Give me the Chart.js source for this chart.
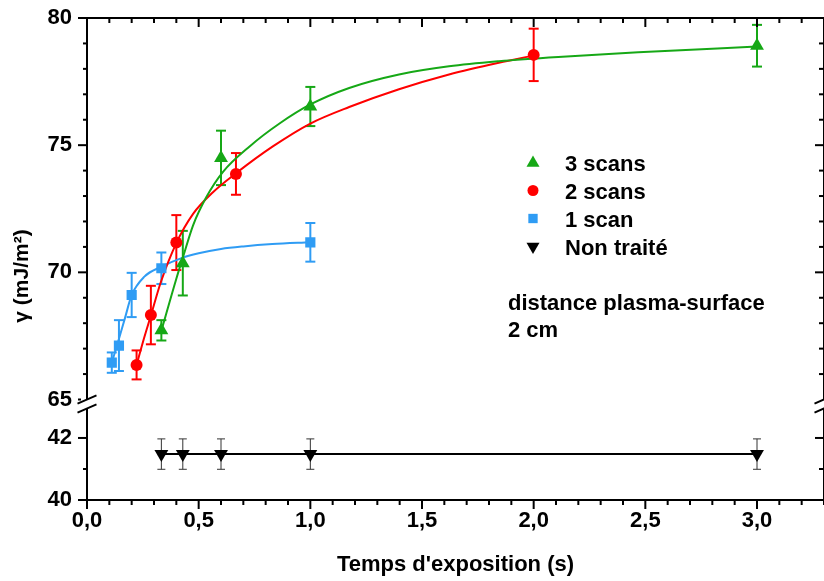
<!DOCTYPE html>
<html>
<head>
<meta charset="utf-8">
<script src="https://cdn.jsdelivr.net/npm/chart.js@4.4.1/dist/chart.umd.min.js"></script>
<style>
  html, body { margin: 0; padding: 0; background: #fff; overflow: hidden; }
  #wrap { position: relative; width: 832px; height: 581px; }
</style>
</head>
<body>
<div id="wrap"><canvas id="chart"></canvas></div>
<script>
// measured points
const scan3X = [0.333, 0.429, 0.6, 1.0, 3.0];
const scan3Y = [67.72, 70.36, 74.5, 76.52, 78.91];
const scan3Err = [0.4, 1.27, 1.07, 0.77, 0.82];

const scan2X = [0.222, 0.286, 0.4, 0.667, 2.0];
const scan2Y = [66.36, 68.32, 71.17, 73.87, 78.55];
const scan2Err = [0.57, 1.15, 1.08, 0.82, 1.03];

const scan1X = [0.111, 0.143, 0.2, 0.333, 1.0];
const scan1Y = [66.45, 67.12, 69.11, 70.16, 71.18];
const scan1Err = [0.4, 1.0, 0.87, 0.62, 0.76];

const rawX = [0.333, 0.429, 0.6, 1.0, 3.0];
const rawY = [41.48, 41.48, 41.48, 41.48, 41.48];
const rawErr = [0.49, 0.49, 0.49, 0.49, 0.49];

// fitted curves
const fit3X = [0.333, 0.4, 0.43, 0.475, 0.534, 0.609, 0.728, 0.862, 1.0, 1.174, 1.397, 1.621, 1.844, 2.11, 2.469, 3.0];
const fit3Y = [67.7, 69.75, 70.6, 71.85, 72.95, 73.95, 74.95, 75.85, 76.6, 77.25, 77.78, 78.1, 78.3, 78.47, 78.65, 78.88];

const fit2X = [0.222, 0.255, 0.286, 0.33, 0.4, 0.475, 0.564, 0.668, 0.832, 1.0, 1.174, 1.397, 1.621, 1.844, 2.0];
const fit2Y = [66.36, 67.4, 68.3, 69.6, 71.15, 72.3, 73.15, 73.9, 74.95, 75.85, 76.5, 77.2, 77.78, 78.24, 78.52];

const fit1X = [0.111, 0.137, 0.17, 0.2, 0.257, 0.333, 0.42, 0.5, 0.6, 0.7, 0.83, 1.0];
const fit1Y = [66.45, 67.2, 68.2, 69.1, 69.83, 70.22, 70.55, 70.75, 70.92, 71.02, 71.11, 71.18];

const xTicks = [0, 0.5, 1.0, 1.5, 2.0, 2.5, 3.0];
const yTicks = [65, 70, 75, 80];
const yLowTicks = [40, 42];

const GREEN = '#16a816';
const RED = '#ff0000';
const BLUE = '#2f9cf4';
const BLACK = '#000000';
const FONT = "'Liberation Sans', Arial, sans-serif";

const pts = (xs, ys) => xs.map((x, i) => ({ x: x, y: ys[i] }));

const series = [
  { label: '3 scans', xs: scan3X, ys: scan3Y, err: scan3Err, color: GREEN, style: 'triangle', rot: 0, r: 8, axis: 'y' },
  { label: '2 scans', xs: scan2X, ys: scan2Y, err: scan2Err, color: RED, style: 'circle', rot: 0, r: 6, axis: 'y' },
  { label: '1 scan', xs: scan1X, ys: scan1Y, err: scan1Err, color: BLUE, style: 'rect', rot: 0, r: 7.2, axis: 'y' },
  { label: 'Non traité', xs: rawX, ys: rawY, err: rawErr, color: BLACK, style: 'triangle', rot: 180, r: 8, axis: 'yLow' }
];

const datasets = series.map(s => ({
  label: s.label,
  data: pts(s.xs, s.ys),
  yAxisID: s.axis,
  pointStyle: s.style,
  rotation: s.rot,
  pointRadius: s.r,
  pointBackgroundColor: s.color,
  pointBorderColor: s.color,
  pointBorderWidth: 0,
  borderColor: s.color,
  borderWidth: 2,
  showLine: s.axis === 'yLow',
  order: 0
}));

[[fit3X, fit3Y, GREEN], [fit2X, fit2Y, RED], [fit1X, fit1Y, BLUE]].forEach(f => {
  datasets.push({
    data: pts(f[0], f[1]),
    yAxisID: 'y',
    showLine: true,
    pointRadius: 0,
    borderColor: f[2],
    borderWidth: 2,
    cubicInterpolationMode: 'monotone',
    order: 1
  });
});

function line(ctx, x1, y1, x2, y2) {
  ctx.beginPath();
  ctx.moveTo(x1, y1);
  ctx.lineTo(x2, y2);
  ctx.stroke();
}

function drawMarker(ctx, style, rot, x, y, r, color) {
  ctx.save();
  ctx.fillStyle = color;
  ctx.beginPath();
  if (style === 'circle') {
    ctx.arc(x, y, r, 0, Math.PI * 2);
  } else if (style === 'rect') {
    const h = r * Math.SQRT1_2;
    ctx.rect(x - h, y - h, 2 * h, 2 * h);
  } else {
    let a = rot * Math.PI / 180;
    for (let i = 0; i < 3; i++) {
      const px = x + Math.sin(a) * r, py = y - Math.cos(a) * r;
      if (i === 0) ctx.moveTo(px, py); else ctx.lineTo(px, py);
      a += Math.PI * 2 / 3;
    }
    ctx.closePath();
  }
  ctx.fill();
  ctx.restore();
}

const frame = {
  id: 'frame',
  beforeDatasetsDraw(chart) {
    const ctx = chart.ctx;
    const xs = chart.scales.x;
    series.forEach(s => {
      const ys = chart.scales[s.axis];
      const black = s.color === BLACK;
      ctx.save();
      ctx.strokeStyle = black ? '#333' : s.color;
      ctx.lineWidth = black ? 1 : 2;
      const cap = black ? 4 : 5;
      s.xs.forEach((x, i) => {
        const px = xs.getPixelForValue(x);
        const top = ys.getPixelForValue(s.ys[i] + s.err[i]);
        const bot = ys.getPixelForValue(s.ys[i] - s.err[i]);
        line(ctx, px, top, px, bot);
        line(ctx, px - cap, top, px + cap, top);
        line(ctx, px - cap, bot, px + cap, bot);
      });
      ctx.restore();
    });
  },
  afterDraw(chart) {
    const ctx = chart.ctx;
    const a = chart.chartArea;
    const xs = chart.scales.x, yu = chart.scales.y, yl = chart.scales.yLow;
    const brk1 = yu.getPixelForValue(65);
    const brk2 = brk1 + 9;
    ctx.save();
    ctx.strokeStyle = '#000';
    ctx.lineWidth = 2;
    ctx.lineCap = 'butt';
    // frame
    line(ctx, a.left - 1, a.top, a.right + 1, a.top);
    line(ctx, a.left - 1, a.bottom, a.right + 1, a.bottom);
    [a.left, a.right].forEach(x => {
      line(ctx, x, a.top, x, brk1);
      line(ctx, x, brk2, x, a.bottom);
      line(ctx, x - 9.5, brk1 + 4.2, x + 9.5, brk1 - 4.2);
      line(ctx, x - 9.5, brk2 + 4.2, x + 9.5, brk2 - 4.2);
    });
    // x ticks
    for (let i = 0; i <= 33; i++) {
      const v = i / 10;
      const px = xs.getPixelForValue(v);
      const major = i % 5 === 0;
      line(ctx, px, a.bottom, px, a.bottom + (major ? 9 : 5));
      line(ctx, px, a.top, px, a.top + (major ? 9 : 5));
    }
    // y ticks, upper part
    for (let v = 65; v <= 80; v++) {
      const py = yu.getPixelForValue(v);
      const major = v % 5 === 0;
      if (v !== 65) {
        line(ctx, a.left - (major ? 9 : 4), py, a.left, py);
        line(ctx, a.right - (major ? 9 : 5), py, a.right, py);
      } else {
        line(ctx, a.left - 9, py, a.left - 6, py);
      }
    }
    // y ticks, lower part
    for (let v = 40; v <= 42; v++) {
      const py = yl.getPixelForValue(v);
      const major = v % 2 === 0;
      line(ctx, a.left - (major ? 9 : 4), py, a.left, py);
      line(ctx, a.right - (major ? 9 : 5), py, a.right, py);
    }
    ctx.restore();

    // legend
    ctx.save();
    ctx.fillStyle = '#000';
    ctx.font = 'bold 22px ' + FONT;
    ctx.textBaseline = 'alphabetic';
    const rowY = [163, 190.5, 218.5, 246.5];
    series.forEach((s, i) => {
      const r = s.style === 'circle' ? 5.5 : (s.style === 'rect' ? 6.6 : 7.5);
      drawMarker(ctx, s.style, s.rot, 533, rowY[i], r, s.color);
      ctx.fillText(s.label, 565, rowY[i] + 8);
    });
    ctx.fillText('distance plasma-surface', 508, 310);
    ctx.fillText('2 cm', 508, 337);

    // y title
    ctx.translate(22, 276);
    ctx.rotate(-Math.PI / 2);
    ctx.textAlign = 'center';
    ctx.textBaseline = 'middle';
    ctx.font = 'bold 21px ' + FONT;
    ctx.fillText('γ (mJ/m²)', 0, 0);
    ctx.restore();
  }
};

const tickFont = { family: FONT, size: 22, weight: 'bold' };

function fitY(s) {
  s.width = 87;
  s.paddingTop = 0;
  s.paddingBottom = 0;
}

new Chart(document.getElementById('chart'), {
  type: 'scatter',
  data: { datasets: datasets },
  options: {
    responsive: true,
    maintainAspectRatio: false,
    animation: false,
    layout: { padding: { top: 18, right: 6, left: 0, bottom: 0 } },
    plugins: { legend: { display: false }, tooltip: { enabled: false } },
    scales: {
      x: {
        type: 'linear', position: 'bottom', min: 0, max: 3.3,
        afterBuildTicks: s => { s.ticks = xTicks.map(v => ({ value: v })); },
        afterFit: s => { s.height = 81; s.paddingLeft = 0; s.paddingRight = 0; },
        grid: { display: false, drawTicks: false },
        border: { display: false },
        ticks: {
          color: '#000', font: tickFont, padding: 8, maxRotation: 0, autoSkip: false,
          callback: v => Number(v).toFixed(1).replace('.', ',')
        },
        title: {
          display: true, text: "Temps d'exposition (s)", color: '#000',
          font: { family: FONT, size: 22, weight: 'bold' }, padding: { top: 0, bottom: 3 }
        }
      },
      yLow: {
        type: 'linear', position: 'left', stack: 'ax', stackWeight: 100.5, min: 40, max: 43.24,
        afterBuildTicks: s => { s.ticks = yLowTicks.map(v => ({ value: v })); },
        afterFit: fitY,
        grid: { display: false, drawTicks: false },
        border: { display: false },
        ticks: { color: '#000', font: tickFont, padding: 15 }
      },
      y: {
        type: 'linear', position: 'left', stack: 'ax', stackWeight: 381.5, min: 65, max: 80,
        afterBuildTicks: s => { s.ticks = yTicks.map(v => ({ value: v })); },
        afterFit: fitY,
        grid: { display: false, drawTicks: false },
        border: { display: false },
        ticks: { color: '#000', font: tickFont, padding: 15 }
      }
    }
  },
  plugins: [frame]
});
</script>
</body>
</html>
